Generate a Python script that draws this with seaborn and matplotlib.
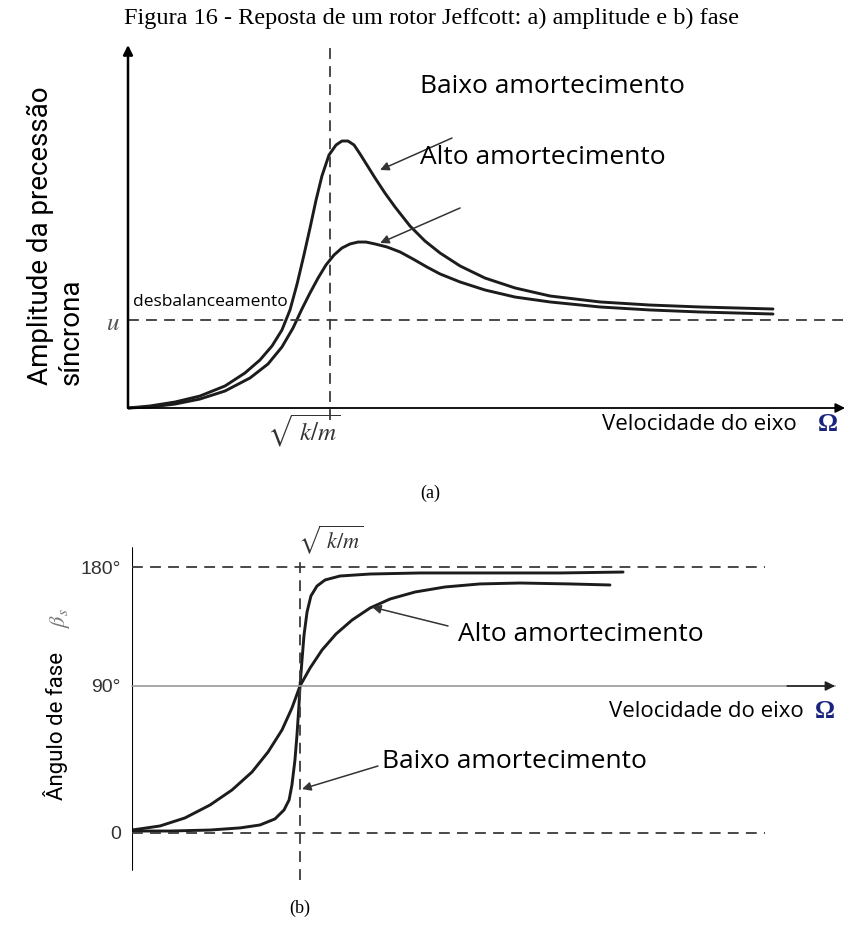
import numpy as np
import matplotlib
matplotlib.use("Agg")
import matplotlib.pyplot as plt
import seaborn as sns

sns.set_style("white")
plt.rcParams["font.family"] = ["Open Sans", "DejaVu Sans"]
plt.rcParams["mathtext.fontset"] = "stix"
plt.rcParams["text.color"] = "black"

# ---------------- data ----------------
# (a) amplitude vs speed ratio (Omega / sqrt(k/m)), amplitude in units of u
amp_r_low = [0.000, 0.109, 0.233, 0.356, 0.480, 0.579, 0.653, 0.713, 0.762, 0.802, 0.837,
             0.871, 0.901, 0.931, 0.960, 0.995, 1.030, 1.059, 1.089, 1.119, 1.149, 1.183,
             1.223, 1.272, 1.322, 1.396, 1.470, 1.545, 1.644, 1.767, 1.916, 2.089, 2.337,
             2.584, 2.832, 3.193]
amp_low = [0.000, 0.023, 0.068, 0.136, 0.250, 0.398, 0.545, 0.705, 0.886, 1.114, 1.409,
           1.739, 2.045, 2.364, 2.636, 2.875, 2.989, 3.034, 3.034, 2.989, 2.886, 2.761,
           2.614, 2.443, 2.284, 2.068, 1.898, 1.761, 1.614, 1.477, 1.364, 1.273, 1.205,
           1.170, 1.148, 1.125]
amp_r_high = [0.000, 0.109, 0.233, 0.356, 0.480, 0.604, 0.693, 0.762, 0.817, 0.861, 0.901,
              0.941, 0.980, 1.020, 1.059, 1.099, 1.139, 1.178, 1.223, 1.282, 1.347, 1.411,
              1.480, 1.545, 1.644, 1.767, 1.916, 2.089, 2.337, 2.584, 2.832, 3.193]
amp_high = [0.000, 0.011, 0.045, 0.102, 0.193, 0.341, 0.500, 0.693, 0.909, 1.125, 1.307,
            1.477, 1.625, 1.739, 1.818, 1.864, 1.886, 1.886, 1.864, 1.830, 1.773, 1.693,
            1.602, 1.523, 1.432, 1.341, 1.261, 1.205, 1.148, 1.114, 1.091, 1.068]

# (b) phase angle (degrees) vs speed ratio
ph_r_low = [0.000, 0.226, 0.464, 0.643, 0.762, 0.851, 0.905, 0.935, 0.952, 0.970, 0.982,
            0.994, 1.000, 1.012, 1.024, 1.042, 1.065, 1.101, 1.149, 1.238, 1.417, 1.714,
            2.190, 2.548, 2.923]
ph_low = [1.2, 1.2, 1.8, 3.1, 4.9, 8.6, 14.1, 20.2, 29.4, 44.7, 60.0,
          78.4, 90.0, 109.7, 128.6, 146.0, 158.1, 165.6, 170.2, 173.2, 174.7, 175.5,
          175.5, 175.5, 176.2]
ph_r_high = [0.000, 0.167, 0.315, 0.464, 0.595, 0.714, 0.810, 0.893, 0.952, 1.000, 1.060,
             1.131, 1.214, 1.310, 1.417, 1.536, 1.685, 1.863, 2.071, 2.310, 2.607, 2.845]
ph_high = [1.8, 4.3, 9.2, 17.1, 26.3, 37.3, 49.6, 63.1, 76.5, 90.0, 103.6,
           117.2, 129.3, 139.9, 149.0, 155.8, 161.1, 164.9, 167.2, 167.9, 167.2, 166.4]

phase_ticks = [0, 90, 180]
phase_ticklabels = ["0", "90°", "180°"]

title = "Figura 16 - Reposta de um rotor Jeffcott: a) amplitude e b) fase"
lbl_low = "Baixo amortecimento"
lbl_high = "Alto amortecimento"
lbl_speed = "Velocidade do eixo"

# ---------------- figure ----------------
W, H = 863, 930
fig = plt.figure(figsize=(W / 100, H / 100), dpi=100)
CURVE = "#1c1c1c"
DASH = "#3a3a3a"
NARROW = ["Roboto", "DejaVu Sans"]
LW = 2.1

fig.text(431 / W, 1 - 18 / H, title, ha="center", va="center",
         family="Liberation Serif", fontsize=17.5)

# ---- (a) ----
ax1 = fig.add_axes([128 / W, (H - 425.6) / H, 727.2 / W, 387.2 / H])
ax1.set_xlim(0, 3.6)
ax1.set_ylim(-0.2, 4.2)
for s in ax1.spines.values():
    s.set_visible(False)

for xs, ys in ((amp_r_low, amp_low), (amp_r_high, amp_high)):
    sns.lineplot(x=xs, y=ys, ax=ax1, color=CURVE, lw=LW, sort=False,
                 estimator=None, legend=False, solid_joinstyle="round",
                 solid_capstyle="round")

ax1.plot([1, 1], [-0.136, 4.125], ls=(0, (6, 4)), color=DASH, lw=1.3)
ax1.plot([0, 3.55], [1, 1], ls=(0, (6, 4)), color=DASH, lw=1.3)

axarrow = dict(arrowstyle="-|>", color="black", lw=1.8, mutation_scale=14,
               shrinkA=0, shrinkB=0)
ax1.annotate("", xy=(0, 4.125), xytext=(0, 0), arrowprops=axarrow, annotation_clip=False)
ax1.annotate("", xy=(3.55, 0), xytext=(0, 0), arrowprops=dict(axarrow, lw=1.3),
             annotation_clip=False)

ax1.set_xticks([])
ax1.set_yticks([1])
ax1.set_yticklabels([r"$u$"], fontsize=18, color="#555555")
ax1.tick_params(length=0, pad=6)
ax1.text(0.87, -0.26, r"$\sqrt{\ k/m}$", fontsize=18, color="#333333",
         ha="center", va="center")

ptr = dict(arrowstyle="-|>", color="#333333", lw=1.1, mutation_scale=13,
           shrinkA=0, shrinkB=0)
ax1.text(1.446, 3.648, lbl_low, fontsize=19, va="center", ha="left")
ax1.annotate("", xy=(1.248, 2.705), xytext=(1.604, 3.068), arrowprops=ptr)
ax1.text(1.446, 2.852, lbl_high, fontsize=19, va="center", ha="left")
ax1.annotate("", xy=(1.248, 1.875), xytext=(1.644, 2.273), arrowprops=ptr)
ax1.text(0.025, 1.205, "desbalanceamento", fontsize=12.5, va="center", ha="left")
ax1.text(3.31, -0.193, lbl_speed, fontsize=16, va="center", ha="right")
ax1.text(3.465, -0.193, "Ω", family="Liberation Serif", fontweight="bold",
         color="#1a237e", fontsize=18, ha="center", va="center")

fig.text(56 / W, 1 - 385 / H, "Amplitude da precessão\nsíncrona", rotation=90,
         ha="center", va="bottom", multialignment="left", family=NARROW, fontsize=20)
fig.text(430 / W, 1 - 493 / H, "(a)", ha="center", va="center",
         family="Liberation Serif", fontsize=13)

# ---- (b) ----
def fwd(d):
    d = np.asarray(d, float)
    return np.where(d <= 90, d * 147 / 90, 147 + (d - 90) * 119 / 90)


def inv(u):
    u = np.asarray(u, float)
    return np.where(u <= 147, u * 90 / 147, 90 + (u - 147) * 90 / 119)


ax2 = fig.add_axes([132 / W, (H - 884.9) / H, 722.4 / W, 354.9 / H])
ax2.set_yscale("function", functions=(fwd, inv))
ax2.set_xlim(0, 4.3)
ax2.set_ylim(-31.8, 208)
for s in ax2.spines.values():
    s.set_visible(False)

for xs, ys in ((ph_r_low, ph_low), (ph_r_high, ph_high)):
    sns.lineplot(x=xs, y=ys, ax=ax2, color=CURVE, lw=LW, sort=False,
                 estimator=None, legend=False, solid_joinstyle="round",
                 solid_capstyle="round")

ax2.plot([0, 0], [-22.7, 194.4], color="black", lw=1.5)
ax2.plot([1, 1], [-28.8, 189], ls=(0, (6, 4)), color=DASH, lw=1.3)
ax2.plot([0, 3.768], [180, 180], ls=(0, (6, 4)), color=DASH, lw=1.3)
ax2.plot([0, 3.768], [0, 0], ls=(0, (6, 4)), color=DASH, lw=1.3)
ax2.annotate("", xy=(4.185, 90), xytext=(0, 90),
             arrowprops=dict(arrowstyle="-", color="#999999", lw=1.2,
                             shrinkA=0, shrinkB=0), annotation_clip=False)
ax2.annotate("", xy=(4.185, 90), xytext=(3.9, 90),
             arrowprops=dict(arrowstyle="-|>", color="#222222", lw=1.2, mutation_scale=14,
                             shrinkA=0, shrinkB=0), annotation_clip=False)

ax2.set_yticks(phase_ticks)
ax2.set_yticklabels(phase_ticklabels, family=["Liberation Sans", "DejaVu Sans"],
                    fontsize=14, color="#333333")
ax2.set_xticks([])
ax2.tick_params(length=0, pad=8)

ax2.text(0.988, 200.4, r"$\sqrt{\ k/m}$", fontsize=16, color="#333333",
         ha="left", va="center")
ax2.text(1.94, 128.6, lbl_high, fontsize=19, va="center", ha="left")
ax2.annotate("", xy=(1.429, 149.7), xytext=(1.881, 135.4), arrowprops=ptr)
ax2.text(1.488, 43.5, lbl_low, fontsize=19, va="center", ha="left")
ax2.annotate("", xy=(1.012, 26.9), xytext=(1.464, 41.0), arrowprops=ptr)
ax2.text(4.0, 74.1, lbl_speed, fontsize=16, va="center", ha="right")
ax2.text(4.125, 74.1, "Ω", family="Liberation Serif", fontweight="bold",
         color="#1a237e", fontsize=18, ha="center", va="center")

fig.text(55 / W, 1 - 800 / H, "Ângulo de fase", rotation=90, ha="center", va="bottom",
         family=NARROW, fontsize=16)
fig.text(60 / W, 1 - 618 / H, r"$\beta_s$", rotation=90, ha="center", va="center",
         fontsize=16, color="#777777")
fig.text(300 / W, 1 - 908 / H, "(b)", ha="center", va="center",
         family="Liberation Serif", fontsize=13)

fig.savefig("out.png", dpi=100)
